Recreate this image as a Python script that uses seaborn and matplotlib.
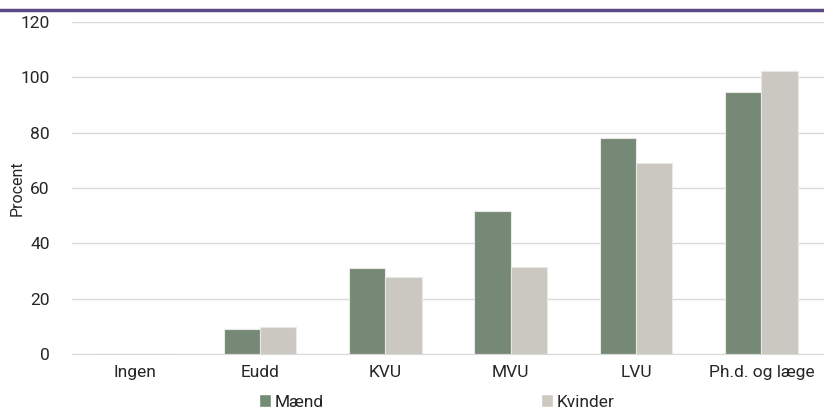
import pandas as pd
import matplotlib.pyplot as plt
import seaborn as sns
from matplotlib.patches import Patch
from matplotlib.lines import Line2D

categories = ["Ingen", "Eudd", "KVU", "MVU", "LVU", "Ph.d. og læge"]
maend = [0, 9.0, 31.1, 51.7, 78.1, 94.7]
kvinder = [0, 9.8, 27.8, 31.4, 69.0, 102.3]

df = pd.DataFrame({"Uddannelse": categories * 2,
                   "Procent": maend + kvinder,
                   "Køn": ["Mænd"] * 6 + ["Kvinder"] * 6})

sns.set_style("white")
plt.rcParams["font.family"] = ["Roboto", "DejaVu Sans"]
colors = {"Mænd": "#738c74", "Kvinder": "#cdc9bf"}

fig = plt.figure(figsize=(8.24, 4.12), dpi=100)
ax = fig.add_axes([72 / 824, 1 - 354 / 412, 1 - 72 / 824, 332 / 412])
sns.barplot(data=df, x="Uddannelse", y="Procent", hue="Køn", palette=colors,
            width=0.58, gap=0, edgecolor="#e8e8e4", linewidth=0.8, ax=ax, legend=False)

ax.set_ylim(0, 120)
ax.set_yticks(range(0, 121, 20))
ax.set_xlim(-0.5, 5.5)
ax.yaxis.grid(True, color="#d9d9d9", linewidth=1)
ax.set_axisbelow(True)
for s in ["top", "right", "left"]:
    ax.spines[s].set_visible(False)
ax.spines["bottom"].set_color("#d9d9d9")
ax.tick_params(axis="both", length=0, labelsize=12.5, colors="#262626", pad=8)
ax.tick_params(axis="y", pad=16)
ax.set_xlabel("")
ax.set_ylabel("Procent", fontsize=11.5, color="#262626", labelpad=-3)

fig.add_artist(Line2D([0, 1], [1 - 10 / 412, 1 - 10 / 412], color="#5c4a87", linewidth=2.5))

handles = [Patch(facecolor=colors["Mænd"], label="Mænd"),
           Patch(facecolor=colors["Kvinder"], label="Kvinder")]
fig.legend(handles=handles, loc="center", bbox_to_anchor=(0.53, 1 - 402 / 412), ncol=2,
           frameon=False, fontsize=12.5, handlelength=0.7, handleheight=0.7,
           handletextpad=0.2, columnspacing=12.5, labelcolor="#262626")

fig.savefig("out.png", dpi=100)
